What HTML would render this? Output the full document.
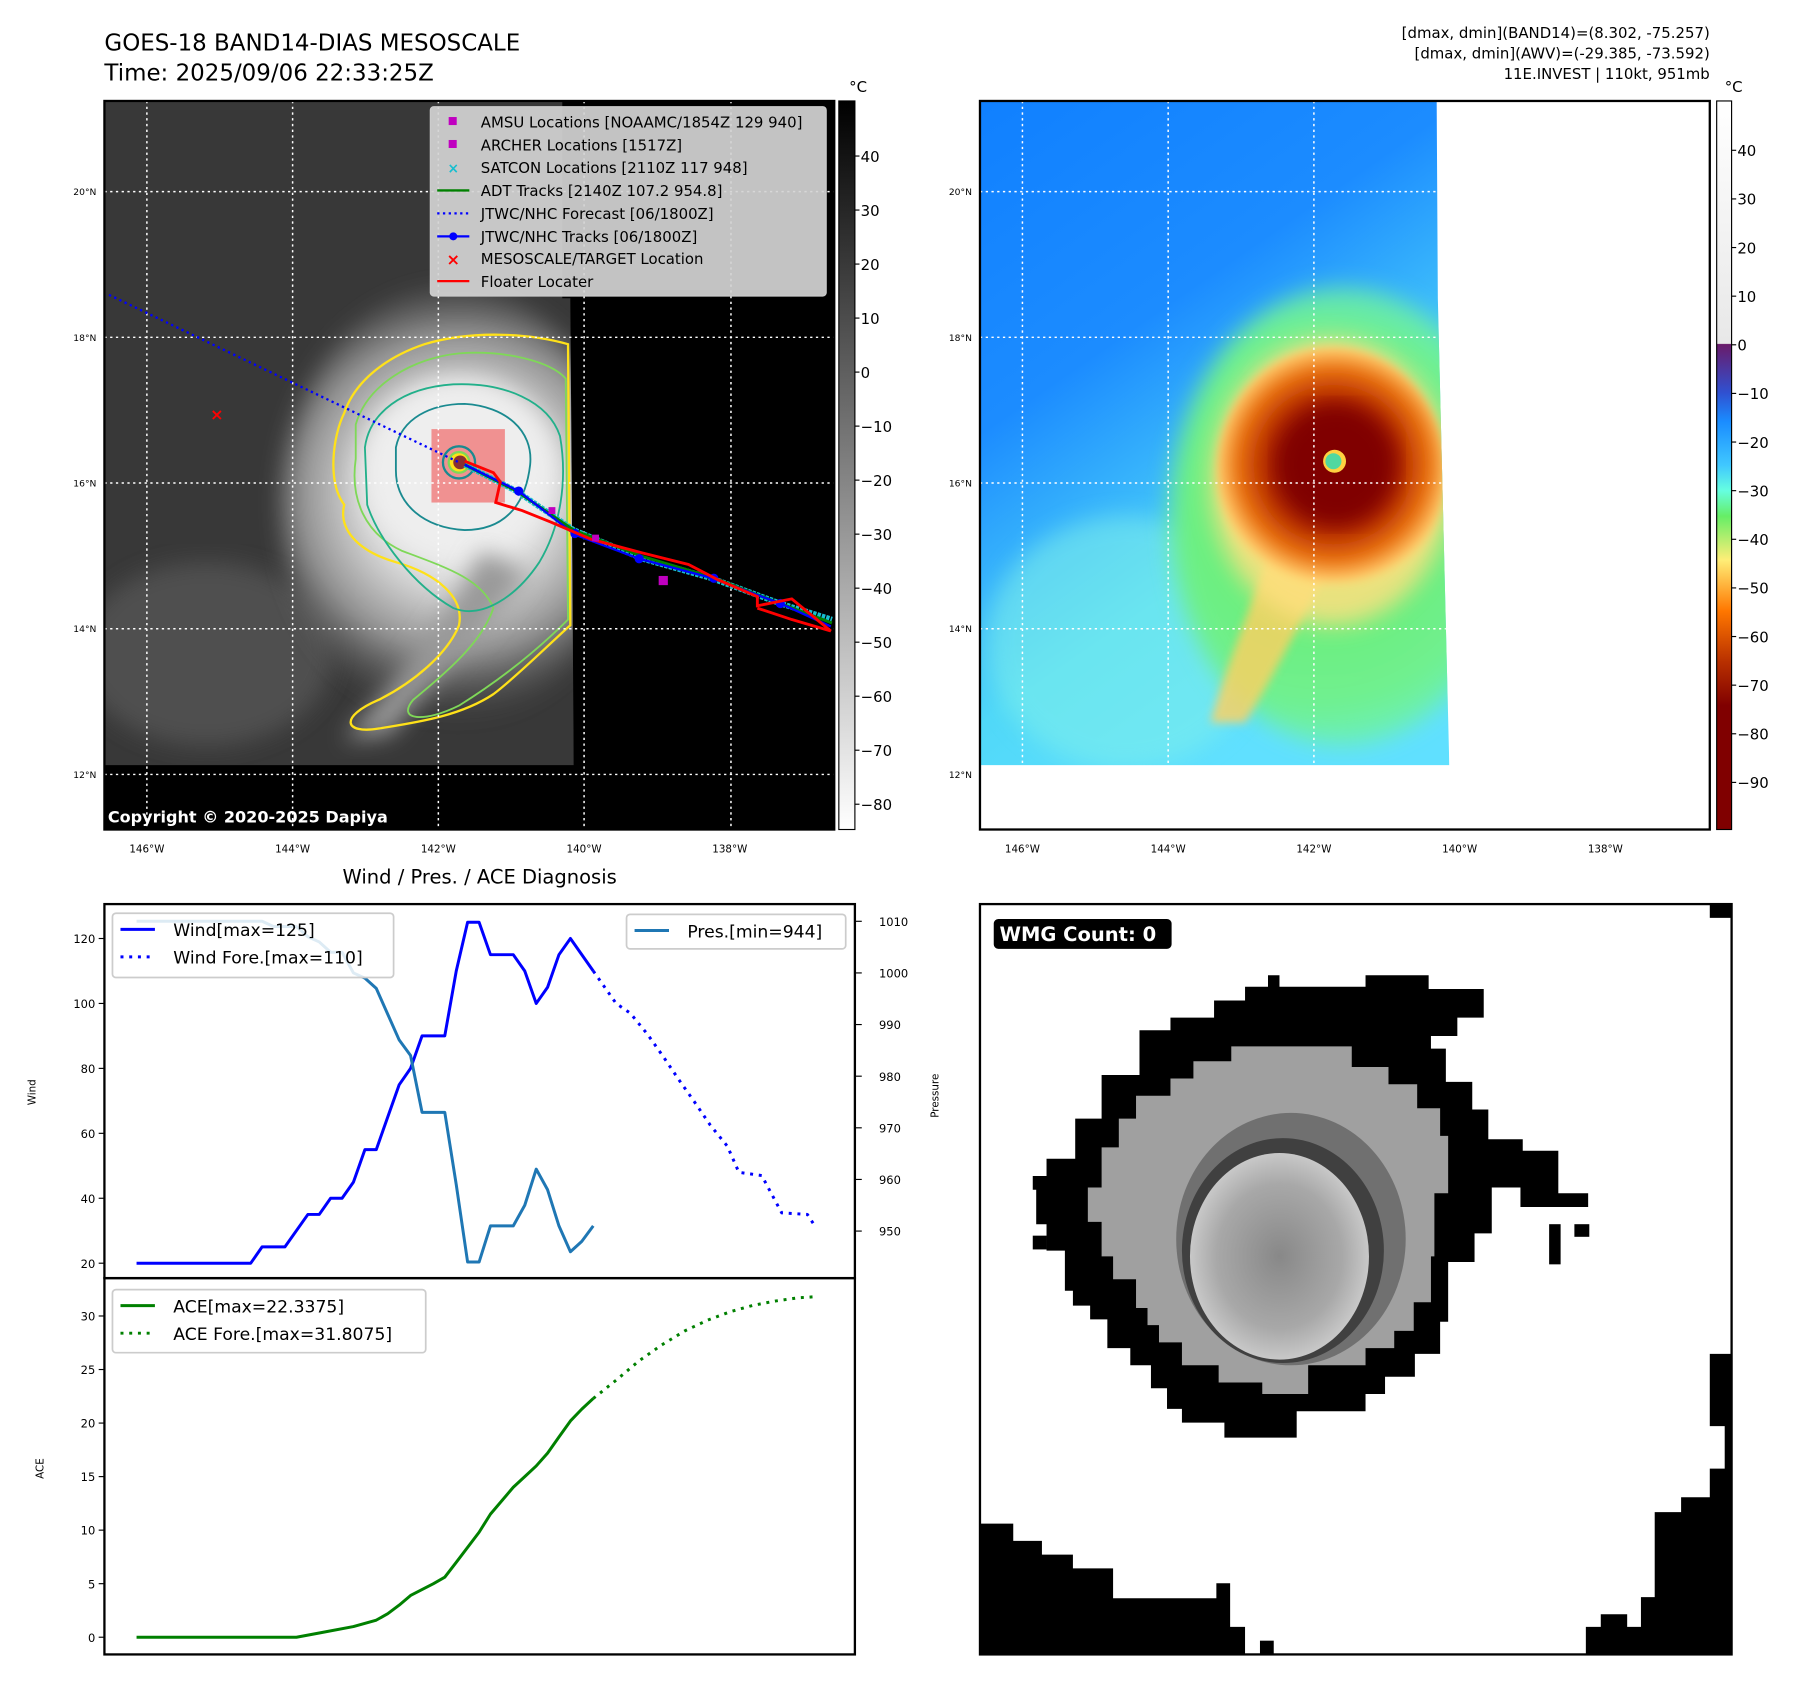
<!DOCTYPE html>
<html><head><meta charset="utf-8"><style>
html,body{margin:0;padding:0;background:#fff;}
svg{display:block;font-family:"DejaVu Sans","Liberation Sans",sans-serif;}
</style></head><body>
<svg id="root" xmlns="http://www.w3.org/2000/svg" width="1797" height="1690" viewBox="0 0 1566 1473" preserveAspectRatio="none">
<defs>
  <linearGradient id="cbGray" x1="0" y1="0" x2="0" y2="1"><stop offset="0" stop-color="#000"/><stop offset="1" stop-color="#fff"/></linearGradient>
  <linearGradient id="cbColor" x1="0" y1="0" x2="0" y2="1">
    <stop offset="0" stop-color="#ffffff"/><stop offset="0.333" stop-color="#e8e8e8"/>
    <stop offset="0.334" stop-color="#6a1b6a"/><stop offset="0.40" stop-color="#3050d0"/>
    <stop offset="0.44" stop-color="#1a8cff"/><stop offset="0.50" stop-color="#40c8ff"/>
    <stop offset="0.535" stop-color="#66ffe0"/><stop offset="0.57" stop-color="#66ee66"/>
    <stop offset="0.63" stop-color="#ffee77"/><stop offset="0.67" stop-color="#ffaa33"/>
    <stop offset="0.70" stop-color="#ff7700"/><stop offset="0.77" stop-color="#b83000"/>
    <stop offset="0.83" stop-color="#800000"/><stop offset="1" stop-color="#800000"/>
  </linearGradient>
  <radialGradient id="cloud" cx="400" cy="430" r="200" gradientUnits="userSpaceOnUse">
    <stop offset="0" stop-color="#f4f4f4"/><stop offset="0.4" stop-color="#dcdcdc"/><stop offset="0.7" stop-color="#909090"/><stop offset="1" stop-color="#4a4a4a" stop-opacity="0"/>
  </radialGradient>
  <linearGradient id="ocean" x1="0" y1="0" x2="0.5" y2="1">
    <stop offset="0" stop-color="#1080ff"/><stop offset="0.4" stop-color="#1c8cff"/><stop offset="0.75" stop-color="#50d8f8"/><stop offset="1" stop-color="#60e0ff"/>
  </linearGradient>
  <radialGradient id="green" cx="1150" cy="450" r="300" gradientUnits="userSpaceOnUse">
    <stop offset="0" stop-color="#66ee66"/><stop offset="0.55" stop-color="#70f090"/><stop offset="1" stop-color="#66ffe0" stop-opacity="0"/>
  </radialGradient>
  <radialGradient id="storm" cx="1162" cy="405" r="110" gradientUnits="userSpaceOnUse">
    <stop offset="0" stop-color="#800000"/><stop offset="0.35" stop-color="#8a0800"/><stop offset="0.55" stop-color="#b83000"/><stop offset="0.75" stop-color="#e87010"/><stop offset="0.9" stop-color="#ffc060"/><stop offset="1" stop-color="#ffee88" stop-opacity="0"/>
  </radialGradient>
  <radialGradient id="eyeDisk" cx="0.5" cy="0.5" r="0.5"><stop offset="0" stop-color="#888"/><stop offset="0.7" stop-color="#a8a8a8"/><stop offset="1" stop-color="#c8c8c8"/></radialGradient>
  <filter id="blur4"><feGaussianBlur stdDeviation="4"/></filter>
  <filter id="blur10"><feGaussianBlur stdDeviation="10"/></filter>
  <clipPath id="clipL"><polygon points="91,88 490,88 490,260 497,260 500,667 91,667"/></clipPath>
  <clipPath id="clipR"><polygon points="854,88 1252,88 1253,260 1263,667 854,667"/></clipPath>
</defs>

<text x="91" y="44" font-size="20">GOES-18 BAND14-DIAS MESOSCALE</text>
<text x="91" y="70" font-size="20">Time: 2025/09/06 22:33:25Z</text>
<g font-size="13" text-anchor="end">
  <text x="1490" y="33">[dmax, dmin](BAND14)=(8.302, -75.257)</text>
  <text x="1490" y="51">[dmax, dmin](AWV)=(-29.385, -73.592)</text>
  <text x="1490" y="69">11E.INVEST | 110kt, 951mb</text>
</g>

<g>
  <rect x="91" y="88" width="636" height="635" fill="#000"/>
  <g clip-path="url(#clipL)">
    <rect x="91" y="88" width="410" height="580" fill="#383838"/>
    <ellipse cx="180" cy="570" rx="110" ry="80" fill="#505050" filter="url(#blur10)"/>
    <ellipse cx="395" cy="440" rx="150" ry="190" fill="url(#cloud)" filter="url(#blur10)"/>
    <ellipse cx="400" cy="410" rx="85" ry="80" fill="#eee" filter="url(#blur10)"/>
    <path d="M420,480 C390,540 340,600 300,645 L340,640 C380,590 430,540 460,500 Z" fill="#999" filter="url(#blur10)"/>
    <path d="M300,360 C310,330 340,310 370,300 C410,288 460,290 495,300 L497,545 C480,560 450,590 430,605 C400,625 360,630 330,635 C300,640 295,625 330,610 C360,595 390,570 400,545 C405,520 380,500 345,490 C310,480 295,460 300,440 C285,420 290,380 300,360 Z" fill="none" stroke="#ffe119" stroke-width="2"/>
    <path d="M310,370 C320,335 360,312 400,308 C440,305 480,315 493,330 L495,540 C470,565 440,590 400,615 C370,630 345,628 360,610 C390,585 420,560 430,530 C420,505 390,495 350,480 C318,465 305,435 310,400 Z" fill="none" stroke="#7fd858" stroke-width="1.6"/>
    <path d="M318,390 C322,360 350,338 395,335 C440,333 478,350 488,380 C495,420 488,460 470,490 C450,520 420,540 395,530 C360,510 330,470 320,440 Z" fill="none" stroke="#22b08a" stroke-width="1.6"/>
    <path d="M345,390 C350,365 375,352 405,352 C440,354 465,375 462,405 C458,440 440,462 405,462 C370,460 345,440 345,410 Z" fill="none" stroke="#1a8a90" stroke-width="1.6"/>
  </g>
  <rect x="376" y="374" width="64" height="64" fill="#f08080" opacity="0.85"/>
  <circle cx="400" cy="403" r="14" fill="none" stroke="#1a8a90" stroke-width="2"/>
  <circle cx="400" cy="403" r="10" fill="#7fd858"/>
  <circle cx="400" cy="403" r="8" fill="#ffe119"/>
  <circle cx="401" cy="403" r="6" fill="#8a3030"/>
  <g stroke="#fff" stroke-width="1.3" stroke-dasharray="2,3">
    <line x1="128" y1="88" x2="128" y2="723"/><line x1="255" y1="88" x2="255" y2="723"/><line x1="382" y1="88" x2="382" y2="723"/><line x1="509" y1="88" x2="509" y2="723"/><line x1="637" y1="88" x2="637" y2="723"/>
    <line x1="91" y1="167" x2="727" y2="167"/><line x1="91" y1="294" x2="727" y2="294"/><line x1="91" y1="421" x2="727" y2="421"/><line x1="91" y1="548" x2="727" y2="548"/><line x1="91" y1="675" x2="727" y2="675"/>
  </g>
  <polyline points="95,257 400,403" fill="none" stroke="#0000ff" stroke-width="2" stroke-dasharray="2,3"/>
  <polyline points="405,405 450,428 500,462 560,487 620,504 680,526 725,540" fill="none" stroke="#17becf" stroke-width="5" stroke-dasharray="3,1"/>
  <polyline points="405,405 450,428 500,462 560,485 620,503 680,526 725,543" fill="none" stroke="#008000" stroke-width="2.5"/>
  <polyline points="405,405 452,428 501,466 557,487 621,504 680,526 724,546" fill="none" stroke="#0000ff" stroke-width="2"/>
  <g fill="#0000ff"><circle cx="452" cy="428" r="4"/><circle cx="501" cy="465" r="4"/><circle cx="557" cy="487" r="4"/><circle cx="622" cy="504" r="4"/><circle cx="680" cy="526" r="4"/></g>
  <polyline points="405,402 430,412 436,420 432,438 455,445 480,455 515,470 560,482 600,492 625,505 660,520 660,528 690,522 724,550 690,540 660,530" fill="none" stroke="#ff0000" stroke-width="2.5"/>
  <g fill="#c000c0"><rect x="574" y="502" width="8" height="8"/><rect x="478" y="442" width="6" height="6"/><rect x="516" y="466" width="6" height="6"/></g>
  <text x="189" y="366" font-size="14" fill="#ff0000" text-anchor="middle" font-weight="bold">×</text>
  <rect x="91" y="88" width="636" height="635" fill="none" stroke="#000" stroke-width="2"/>
  <text x="94" y="717" font-size="14" font-weight="bold" fill="#fff">Copyright © 2020-2025 Dapiya</text>
  <g font-size="13">
    <rect x="375" y="93" width="345" height="165" rx="3" fill="#d4d4d4" fill-opacity="0.92" stroke="#ccc"/>
    <rect x="391" y="102" width="7" height="7" fill="#c000c0"/><text x="419" y="111">AMSU Locations [NOAAMC/1854Z 129 940]</text>
    <rect x="391" y="122" width="7" height="7" fill="#c000c0"/><text x="419" y="131">ARCHER Locations [1517Z]</text>
    <text x="395" y="151" fill="#17becf" text-anchor="middle" font-size="12" font-weight="bold">×</text><text x="419" y="151">SATCON Locations [2110Z 117 948]</text>
    <line x1="381" y1="166" x2="409" y2="166" stroke="#008000" stroke-width="2"/><text x="419" y="171">ADT Tracks [2140Z 107.2 954.8]</text>
    <line x1="381" y1="186" x2="409" y2="186" stroke="#0000ff" stroke-width="2" stroke-dasharray="2,3"/><text x="419" y="191">JTWC/NHC Forecast [06/1800Z]</text>
    <line x1="381" y1="206" x2="409" y2="206" stroke="#0000ff" stroke-width="2"/><circle cx="395" cy="206" r="3.5" fill="#0000ff"/><text x="419" y="211">JTWC/NHC Tracks [06/1800Z]</text>
    <text x="395" y="231" fill="#ff0000" text-anchor="middle" font-size="14" font-weight="bold">×</text><text x="419" y="230">MESOSCALE/TARGET Location</text>
    <line x1="381" y1="245" x2="409" y2="245" stroke="#ff0000" stroke-width="2"/><text x="419" y="250">Floater Locater</text>
  </g>
</g>
<g id="leftTicks" font-size="9"></g>

<g>
  <rect x="731" y="88" width="14" height="635" fill="url(#cbGray)" stroke="#000" stroke-width="1"/>
  <text x="740" y="80" font-size="13">°C</text>
  <g id="cbLeftTicks" font-size="13"></g>
</g>

<g>
  <rect x="854" y="88" width="636" height="635" fill="#fff"/>
  <g clip-path="url(#clipR)">
    <rect x="854" y="88" width="420" height="580" fill="url(#ocean)"/>
    <ellipse cx="980" cy="560" rx="120" ry="110" fill="#80f0ea" opacity="0.55" filter="url(#blur10)"/>
    <ellipse cx="1170" cy="450" rx="150" ry="200" fill="url(#green)" filter="url(#blur10)"/>
    <path d="M1110,470 C1090,530 1065,590 1055,630 L1085,630 C1115,580 1145,520 1165,480 Z" fill="#ffd060" opacity="0.8" filter="url(#blur4)"/>
    <ellipse cx="1160" cy="420" rx="105" ry="125" fill="#ffe080" opacity="0.85" filter="url(#blur10)"/>
    <ellipse cx="1160" cy="412" rx="100" ry="110" fill="url(#storm)" filter="url(#blur4)"/>
    <ellipse cx="1165" cy="405" rx="50" ry="50" fill="#800000" filter="url(#blur10)"/>
    <circle cx="1163" cy="402" r="10" fill="#ffd040"/>
    <circle cx="1162" cy="402" r="7" fill="#50d8a0"/>
  </g>
  <g stroke="#fff" stroke-width="1.3" stroke-dasharray="2,3">
    <line x1="891" y1="88" x2="891" y2="667"/><line x1="1018" y1="88" x2="1018" y2="667"/><line x1="1145" y1="88" x2="1145" y2="667"/>
    <line x1="854" y1="167" x2="1252" y2="167"/><line x1="854" y1="294" x2="1254" y2="294"/><line x1="854" y1="421" x2="1257" y2="421"/><line x1="854" y1="548" x2="1260" y2="548"/>
  </g>
  <rect x="854" y="88" width="636" height="635" fill="none" stroke="#000" stroke-width="2"/>
</g>
<g id="rightTicks" font-size="9"></g>
<g>
  <rect x="1496" y="88" width="13" height="635" fill="url(#cbColor)" stroke="#000" stroke-width="1"/>
  <text x="1503" y="80" font-size="13">°C</text>
  <g id="cbRightTicks" font-size="13"></g>
</g>

<text x="418" y="770" font-size="17" text-anchor="middle">Wind / Pres. / ACE Diagnosis</text>
<g id="chart"></g>

<g>
  <rect x="854" y="788" width="655" height="654" fill="#fff"/>
  <polygon fill="#000" points="1085,860 1105,860 1105,850 1115,850 1115,860 1190,860 1190,850 1245,850 1245,862 1293,862 1293,887 1270,887 1270,903 1247,903 1247,914 1260,914 1260,943 1283,943 1283,967 1297,967 1297,993 1327,993 1327,1003 1358,1003 1358,1040 1384,1040 1384,1052 1325,1052 1325,1035 1300,1035 1300,1075 1285,1075 1285,1100 1262,1100 1262,1152 1255,1152 1255,1180 1233,1180 1233,1200 1207,1200 1207,1215 1190,1215 1190,1230 1130,1230 1130,1253 1067,1253 1067,1240 1030,1240 1030,1228 1017,1228 1017,1210 1003,1210 1003,1190 985,1190 985,1175 965,1175 965,1150 950,1150 950,1138 935,1138 935,1125 928,1125 928,1090 912,1090 912,1067 903,1067 903,1037 900,1037 900,1025 912,1025 912,1010 937,1010 937,975 960,975 960,937 993,937 993,898 1020,898 1020,887 1058,887 1058,872 1085,872"/>
  <polygon fill="#a0a0a0" points="1073,912 1178,912 1178,930 1210,930 1210,945 1235,945 1235,966 1255,966 1255,990 1262,990 1262,1040 1250,1040 1250,1095 1247,1095 1247,1135 1232,1135 1232,1160 1215,1160 1215,1175 1190,1175 1190,1190 1140,1190 1140,1215 1100,1215 1100,1205 1062,1205 1062,1190 1030,1190 1030,1170 1010,1170 1010,1155 1000,1155 1000,1140 990,1140 990,1115 970,1115 970,1095 960,1095 960,1065 948,1065 948,1035 960,1035 960,1000 975,1000 975,975 990,975 990,955 1020,955 1020,940 1040,940 1040,925 1073,925"/>
  <ellipse cx="1125" cy="1080" rx="100" ry="110" fill="#707070"/>
  <ellipse cx="1118" cy="1090" rx="88" ry="98" fill="#404040"/>
  <ellipse cx="1115" cy="1095" rx="78" ry="90" fill="url(#eyeDisk)"/>
  <g fill="#000">
    <rect x="1350" y="1067" width="10" height="35"/><rect x="1372" y="1067" width="13" height="11"/><rect x="900" y="1077" width="12" height="12"/>
    <rect x="1098" y="1430" width="12" height="12"/><rect x="1490" y="788" width="19" height="12"/>
    <polygon points="854,1328 883,1328 883,1343 908,1343 908,1355 935,1355 935,1367 970,1367 970,1393 1060,1393 1060,1380 1072,1380 1072,1418 1085,1418 1085,1442 854,1442"/>
    <polygon points="1382,1442 1382,1418 1395,1418 1395,1407 1418,1407 1418,1418 1430,1418 1430,1392 1442,1392 1442,1318 1465,1318 1465,1305 1490,1305 1490,1280 1503,1280 1503,1243 1490,1243 1490,1180 1509,1180 1509,1442"/>
  </g>
  <rect x="854" y="788" width="655" height="654" fill="none" stroke="#000" stroke-width="2"/>
  <rect x="866" y="801" width="155" height="26" rx="4" fill="#000"/>
  <text x="871" y="820" font-size="17" font-weight="bold" fill="#fff">WMG Count: 0</text>
</g>

<script>
const windX = [0,10,11,13,15,16,17,18,19,20,21,22,23,24,25,27,28,29,30,31,33,34,35,36,37,38,40];
const windY = [20,20,25,25,35,35,40,40,45,55,55,65,75,80,90,90,110,125,125,115,115,110,100,105,115,120,110];
const windFcX = [40,42,43.25,44.75,46.25,47.5,49,50.25,51.75,52.75,54.75,56.5,58.75,59.5];
const windFcY = [110,100,97,90.5,83,76.5,69,62.5,56,48,47,35.5,35,31];
const presX = [0,11,12,14,15,16,17,18,19,20,21,22,23,24,25,27,28,29,30,31,33,34,35,36,37,38,39,40];
const presY = [1010,1010,1009,1009,1007,1006,1004,1004,1000,999,997,992,987,984,973,973,959,944,944,951,951,955,962,958,951,946,948,951];
const aceX = [0,14,16,19,21,22,23,24,26,27,28,30,31,33,34,35,36,37,38,39,40];
const aceY = [0,0,0.4,1,1.6,2.2,3,3.9,5,5.6,7,9.8,11.5,14,15,16,17.2,18.7,20.2,21.3,22.3];
const aceFcX = [40,42,44,46,48,50,52,54,56,58,59.5];
const aceFcY = [22.3,24,25.8,27.3,28.6,29.6,30.4,31,31.4,31.7,31.8];
const windTicks = [20,40,60,80,100,120];
const presTicks = [950,960,970,980,990,1000,1010];
const aceTicks = [0,5,10,15,20,25,30];
const latTicks = [20,18,16,14,12];
const lonTicks = [146,144,142,140,138];
const cbLeftTicks = [40,30,20,10,0,-10,-20,-30,-40,-50,-60,-70,-80];
const cbRightTicks = [40,30,20,10,0,-10,-20,-30,-40,-50,-60,-70,-80,-90];

const NS = 'http://www.w3.org/2000/svg';
function mk(tag, attrs, parent){ const e=document.createElementNS(NS,tag); for(const k in attrs) e.setAttribute(k,attrs[k]); parent.appendChild(e); return e; }

const xIdx = i => 119 + i*9.95;
const yWind = w => 1101 - (w-20)*2.83;
const yPres = p => 1073 - (p-950)*4.5;
const yAce = a => 1427 - a*9.333;
const xLon = l => 128 + (146-l)*63.5;
const yLat = l => 167 + (20-l)*63.5;
const yCbL = v => 136 + (40-v)*4.708;
const yCbR = v => 131 + (40-v)*4.238;

const lt = document.getElementById('leftTicks'), rt = document.getElementById('rightTicks');
latTicks.forEach(v=>{
  [[lt,0],[rt,763]].forEach(([g,off])=>{
    const t = mk('text',{x:84+off,y:yLat(v)+3,'text-anchor':'end','font-size':8},g); t.textContent=v+'°N';
    
    
  });
});
lonTicks.forEach(v=>{
  [[lt,0],[rt,763]].forEach(([g,off])=>{
    const t = mk('text',{x:xLon(v)+off,y:743,'text-anchor':'middle','font-size':9},g); t.textContent=v+'°W';
    
    
  });
});
const cl = document.getElementById('cbLeftTicks');
cbLeftTicks.forEach(v=>{
  mk('line',{x1:745,x2:749,y1:yCbL(v),y2:yCbL(v),stroke:'#000'},cl);
  const t = mk('text',{x:750,y:yCbL(v)+5},cl); t.textContent = v<0 ? '\u2212'+(-v) : v;
  
  
});
const cr = document.getElementById('cbRightTicks');
cbRightTicks.forEach(v=>{
  mk('line',{x1:1509,x2:1513,y1:yCbR(v),y2:yCbR(v),stroke:'#000'},cr);
  const t = mk('text',{x:1514,y:yCbR(v)+5},cr); t.textContent = v<0 ? '\u2212'+(-v) : v;
  
  
});

const ch = document.getElementById('chart');
mk('rect',{x:91,y:788,width:654,height:654,fill:'#fff'},ch);
const pts = (xs,ys,fy)=>xs.map((x,i)=>xIdx(x).toFixed(1)+','+fy(ys[i]).toFixed(1)).join(' ');
function line(xs,ys,fy,color,dash,name){
  const p = mk('polyline',{points:pts(xs,ys,fy),fill:'none',stroke:color,'stroke-width':2.6,'stroke-linejoin':'round'},ch);
  if(dash) { p.setAttribute('stroke-dasharray','2.6,5'); }
  
  
}
line(windX,windY,yWind,'#0000ff',false,'wind-line');
line(windFcX,windFcY,yWind,'#0000ff',true,'wind-forecast-line');
line(presX,presY,yPres,'#1f77b4',false,'pressure-line');
line(aceX,aceY,yAce,'#008000',false,'ace-line');
line(aceFcX,aceFcY,yAce,'#008000',true,'ace-forecast-line');

windTicks.forEach(v=>{
  mk('line',{x1:86,x2:91,y1:yWind(v),y2:yWind(v),stroke:'#000'},ch);
  const t = mk('text',{x:83,y:yWind(v)+4,'text-anchor':'end','font-size':10},ch); t.textContent=v;
  
  
});
presTicks.forEach(v=>{
  mk('line',{x1:745,x2:751,y1:yPres(v),y2:yPres(v),stroke:'#000'},ch);
  const t = mk('text',{x:766,y:yPres(v)+4,'font-size':10},ch); t.textContent=v;
  
  
});
aceTicks.forEach(v=>{
  mk('line',{x1:86,x2:91,y1:yAce(v),y2:yAce(v),stroke:'#000'},ch);
  const t = mk('text',{x:83,y:yAce(v)+4,'text-anchor':'end','font-size':10},ch); t.textContent=v;
  
  
});
[['Wind',31,952],['Pressure',818,955],['ACE',38,1280]].forEach(([s,x,y])=>{
  const t = mk('text',{x:x,y:y,'font-size':9,'text-anchor':'middle',transform:'rotate(-90 '+x+' '+y+')'},ch); t.textContent=s;
  
  
});
mk('rect',{x:91,y:788,width:654,height:326,fill:'none',stroke:'#000','stroke-width':2},ch);
mk('rect',{x:91,y:1114,width:654,height:328,fill:'none',stroke:'#000','stroke-width':2},ch);

function legend(x,y,w,h,items,name){
  const g = mk('g',{},ch);
  
  
  mk('rect',{x:x,y:y,width:w,height:h,rx:3,fill:'#fff','fill-opacity':0.85,stroke:'#ccc','stroke-width':1.5},g);
  items.forEach((it,i)=>{
    const yy = y+14+i*24;
    const l = mk('line',{x1:x+7,x2:x+37,y1:yy,y2:yy,stroke:it[1],'stroke-width':2.6},g);
    if(it[2]) l.setAttribute('stroke-dasharray','2.6,5');
    const t = mk('text',{x:x+53,y:yy+6,'font-size':15},g); t.textContent=it[0];
  });
}
legend(98,796,245,56,[['Wind[max=125]','#0000ff',false],['Wind Fore.[max=110]','#0000ff',true]],'wind-legend');
legend(546,797,191,30,[['Pres.[min=944]','#1f77b4',false]],'pressure-legend');
legend(98,1124,273,55,[['ACE[max=22.3375]','#008000',false],['ACE Fore.[max=31.8075]','#008000',true]],'ace-legend');
</script>
</svg>
</body></html>
